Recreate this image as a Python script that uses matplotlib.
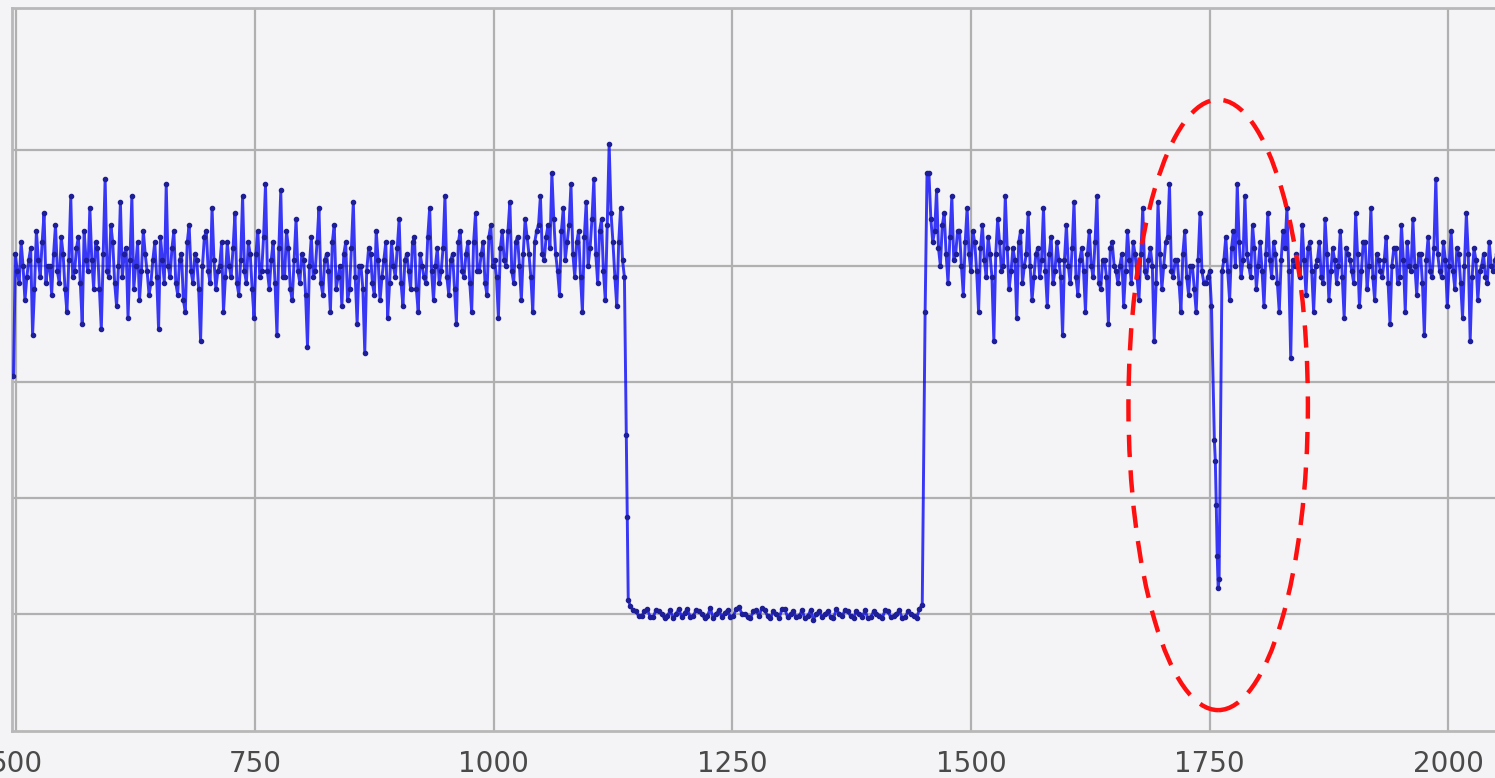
import numpy as np
import matplotlib
matplotlib.use('Agg')
import matplotlib.pyplot as plt
from matplotlib.patches import Ellipse

# 信号数据
# 每段有两组采样：主采样点（偶数位置）和其间的采样点（奇数位置）
# 第一段：噪声段 x = 497 .. 1137，采样间隔 2
seg_a_x0, seg_a_step = 497, 2
seg_a = [
    3.05, 3.95, 4.20, 3.70, 4.05, 3.40, 4.30, 3.90, 4.45, 4.00, 3.75, 4.35, 3.85, 4.10, 3.60, 4.60, 3.95, 4.25, 3.50, 4.05,
    4.50, 3.80, 4.15, 3.45, 4.75, 3.90, 4.20, 3.65, 4.55, 4.10, 3.55, 4.60, 4.00, 3.70, 4.30, 3.95, 3.85, 4.20, 3.45, 4.05,
    4.70, 3.90, 4.30, 3.75, 4.10, 3.60, 4.35, 3.85, 4.05, 3.35, 4.25, 3.95, 4.50, 3.80, 4.00, 3.60, 4.20, 3.90, 4.45, 3.75,
    4.60, 3.85, 4.10, 3.55, 4.30, 3.95, 4.70, 3.80, 4.20, 3.40, 4.65, 3.90, 4.15, 3.70, 4.40, 3.85, 4.05, 3.30, 4.25, 3.95,
    4.50, 3.75, 4.10, 3.60, 4.35, 3.90, 3.65, 4.20, 3.80, 4.55, 3.50, 4.00, 3.25, 4.15, 3.85, 4.30, 3.70, 4.05, 3.55, 4.20,
    3.90, 4.40, 3.65, 4.10, 3.80, 4.25, 3.60, 4.00, 3.85, 4.50, 3.70, 4.15, 3.95, 4.60, 3.75, 4.10, 3.50, 4.30, 3.90, 4.20,
    3.60, 4.45, 3.95, 4.20, 3.75, 4.35, 4.05, 3.55, 4.30, 4.00, 4.55, 3.85, 4.25, 3.70, 4.40, 4.10, 3.60, 4.30, 4.60, 4.05,
    4.35, 4.80, 4.10, 3.75, 4.50, 4.20, 4.70, 3.90, 4.30, 3.60, 4.55, 4.15, 4.75, 3.85, 4.40, 3.70, 5.05, 4.20, 3.65, 4.50,
    3.90,
]
seg_a_mid = [
    4.10, 3.85, 4.00, 3.90, 4.15, 3.80, 4.05, 4.20, 3.85, 4.00, 4.10, 3.95, 4.25, 3.80, 4.05, 3.90, 4.15, 3.85, 4.30, 3.95,
    4.05, 4.20, 3.80, 4.10, 3.95, 4.35, 3.85, 4.00, 3.90, 4.15, 4.05, 3.80, 4.20, 3.95, 4.10, 3.75, 4.05, 3.90, 4.25, 3.85,
    4.00, 4.15, 3.85, 4.05, 3.70, 4.20, 3.95, 4.10, 3.80, 4.00, 4.30, 3.85, 4.05, 3.95, 4.20, 3.90, 4.00, 4.15, 3.85, 4.05,
    3.95, 4.20, 3.80, 4.10, 3.90, 4.25, 3.95, 4.05, 3.85, 4.15, 3.90, 4.30, 3.80, 4.05, 3.95, 4.10, 3.75, 4.00, 3.90, 4.20,
    3.85, 4.05, 3.95, 4.20, 3.80, 4.00, 4.10, 3.70, 4.15, 3.90, 4.00, 3.80, 3.95, 4.10, 3.75, 4.05, 3.90, 4.20, 3.85, 4.00,
    4.15, 3.85, 4.05, 3.95, 4.20, 3.80, 4.10, 3.90, 4.25, 3.95, 4.00, 3.85, 4.15, 3.90, 4.05, 3.80, 4.20, 3.95, 4.10, 3.85,
    4.20, 3.95, 4.10, 3.85, 4.25, 4.00, 3.90, 4.15, 4.05, 4.30, 3.95, 4.20, 4.00, 4.10, 4.25, 3.90, 4.20, 4.35, 4.10, 4.25,
    4.15, 4.40, 3.95, 4.30, 4.05, 4.35, 4.10, 4.20, 3.90, 4.25, 4.00, 4.40, 4.10, 4.30, 3.95, 4.35, 4.45, 3.90, 4.20, 4.05,
]
# 下降沿
drop_x = [1139, 1140, 1141]
drop_y = [2.54, 1.83, 1.12]
# 第二段：低平段 x = 1143 .. 1449，采样间隔 3
seg_b_x0, seg_b_step = 1143, 3
seg_b = [
    1.07, 1.02, 0.98, 1.04, 0.97, 1.02, 0.96, 1.03, 1.00, 0.97, 1.04, 0.98, 1.02, 0.96, 1.05, 1.00, 0.97, 1.03, 0.98, 1.06,
    1.00, 0.96, 1.03, 1.05, 0.98, 1.02, 0.96, 1.04, 1.00, 0.97, 1.03, 0.98, 0.95, 1.02, 1.00, 0.97, 1.04, 0.98, 1.02, 0.96,
    1.00, 1.03, 0.97, 1.00, 0.96, 1.02, 0.98, 1.03, 0.97, 1.00, 0.96, 1.08,
]
seg_b_mid = [
    1.03, 0.98, 1.02, 0.97, 1.03, 1.00, 0.98, 0.96, 1.04, 1.01, 0.97, 1.03, 1.00, 0.98, 0.96, 1.03, 1.01, 0.97, 1.04, 1.00,
    0.97, 1.02, 0.98, 1.03, 0.96, 1.00, 1.04, 0.97, 1.02, 0.98, 0.96, 1.03, 1.00, 0.97, 1.02, 0.96, 1.00, 1.03, 0.98, 1.02,
    0.97, 0.96, 1.02, 0.98, 1.03, 0.97, 1.00, 0.96, 1.02, 0.98, 1.04,
]
# 上升沿
rise_x = [1452, 1454]
rise_y = [3.60, 4.80]
# 第三段：噪声段 x = 1456 .. 1752，采样间隔 2
seg_c_x0, seg_c_step = 1456, 2
seg_c = [
    4.80, 4.20, 4.65, 4.00, 4.45, 3.85, 4.60, 4.10, 4.30, 3.75, 4.50, 3.95, 4.20, 3.60, 4.35, 3.90, 4.10, 3.35, 4.40, 3.95,
    4.60, 3.80, 4.15, 3.55, 4.30, 4.00, 4.45, 3.70, 4.10, 3.90, 4.50, 3.65, 4.25, 3.95, 4.05, 3.40, 4.35, 3.85, 4.55, 3.75,
    4.15, 3.60, 4.30, 3.90, 4.60, 3.80, 4.05, 3.50, 4.20, 3.95, 4.00, 3.65, 4.30, 3.85, 4.10, 3.70, 4.50, 3.90, 4.15, 3.35,
    4.55, 3.80, 4.20, 4.70, 3.90, 4.05, 3.60, 4.30, 3.75, 4.00, 3.60, 4.45, 3.85, 3.90, 3.65,
]
seg_c_mid = [
    4.40, 4.30, 4.15, 4.35, 4.10, 4.25, 4.05, 4.30, 4.00, 4.20, 4.10, 4.30, 3.95, 4.15, 4.05, 4.25, 3.90, 4.10, 4.20, 4.00,
    4.15, 3.95, 4.05, 4.20, 3.85, 4.10, 4.00, 3.90, 4.15, 4.05, 3.95, 4.10, 3.85, 4.20, 3.90, 4.05, 4.00, 4.15, 3.90, 4.05,
    3.95, 4.10, 4.00, 4.20, 3.85, 4.05, 3.90, 4.15, 4.00, 3.85, 4.10, 3.95, 4.05, 4.20, 3.90, 4.10, 3.95, 4.05, 4.00, 3.85,
    4.10, 4.00, 4.25, 3.95, 4.05, 3.85, 4.10, 3.90, 4.00, 3.80, 4.05, 3.95, 3.85, 3.95,
]
# 异常下凹（红圈处）
dip_x = [1755, 1756, 1757, 1758, 1759, 1760]
dip_y = [2.50, 2.32, 1.94, 1.50, 1.22, 1.30]
# 第四段：噪声段 x = 1763 .. 2051，采样间隔 2
seg_d_x0, seg_d_step = 1763, 2
seg_d = [
    3.95, 4.25, 3.70, 4.30, 4.70, 3.90, 4.60, 4.00, 4.35, 3.80, 4.20, 3.65, 4.45, 3.90, 4.10, 3.60, 4.30, 4.50, 3.20, 4.00,
    4.00, 4.35, 3.75, 4.20, 3.60, 4.05, 3.90, 4.40, 3.70, 4.15, 3.85, 4.30, 3.55, 4.10, 3.95, 4.45, 3.65, 4.20, 3.80, 4.50,
    3.70, 4.05, 3.90, 4.25, 3.50, 4.15, 3.85, 4.35, 3.60, 4.00, 4.40, 3.75, 4.10, 3.40, 4.25, 3.90, 4.75, 3.95, 4.20, 3.65,
    4.30, 3.80, 4.10, 3.55, 4.45, 3.35, 4.15, 3.70, 4.00, 3.90, 4.20, 3.95, 4.10,
]
seg_d_mid = [
    4.05, 3.95, 4.15, 4.00, 4.20, 4.05, 4.10, 3.90, 4.15, 4.00, 3.95, 4.10, 4.05, 4.20, 3.85, 4.05, 4.15, 3.95, 4.05, 4.10,
    3.90, 4.05, 4.15, 3.95, 4.00, 4.20, 3.85, 4.10, 3.95, 4.05, 4.00, 3.90, 4.15, 4.05, 3.85, 4.10, 3.95, 4.20, 4.00, 3.90,
    4.10, 3.95, 4.05, 3.85, 4.00, 4.15, 3.90, 4.05, 4.20, 3.95, 4.00, 4.10, 3.85, 4.05, 3.95, 4.15, 4.10, 3.90, 4.05, 4.00,
    3.95, 4.15, 3.85, 4.00, 4.10, 3.90, 4.05, 3.95, 4.10, 3.85, 4.00, 4.05,
]


def interleave(main, mid):
    # 主采样与中间采样交错
    out = np.empty(len(main) + len(mid))
    out[0::2] = main
    out[1::2] = mid
    return out


ya = interleave(seg_a, seg_a_mid)
yb = interleave(seg_b, seg_b_mid)
yc = interleave(seg_c, seg_c_mid)
yd = interleave(seg_d, seg_d_mid)

x = np.concatenate([
    seg_a_x0 + seg_a_step * np.arange(len(ya)),
    drop_x,
    seg_b_x0 + seg_b_step * np.arange(len(yb)),
    rise_x,
    seg_c_x0 + seg_c_step * np.arange(len(yc)),
    dip_x,
    seg_d_x0 + seg_d_step * np.arange(len(yd)),
])
y = np.concatenate([ya, drop_y, yb, rise_y, yc, dip_y, yd])

x_ticks = [500, 750, 1000, 1250, 1500, 1750, 2000]
y_grid = [1, 2, 3, 4, 5]

bg = '#f4f4f6'
fig = plt.figure(figsize=(14.95, 7.78), dpi=100, facecolor=bg)
ax = fig.add_axes([0.008, 0.0604, 0.992, 0.9293])
ax.set_facecolor(bg)

ax.plot(x, y, color='#0808f5', lw=2.1, alpha=0.8, zorder=3)
ax.plot(x, y, ls='none', marker='o', ms=3.0, color='#1e1e96', zorder=4)

# 红色虚线椭圆
ell = Ellipse((1759, 2.80), 188, 5.26, fill=False, edgecolor='#ff1010',
              lw=3.2, linestyle=(0, (5, 3)), zorder=5)
ax.add_patch(ell)

ax.set_xlim(495.4, 2049)
ax.set_ylim(-0.01, 6.22)
ax.set_xticks(x_ticks)
ax.set_yticks(y_grid)
ax.set_yticklabels([])
ax.tick_params(axis='both', length=0)
ax.tick_params(axis='x', pad=14, labelsize=20, labelcolor='#4a4a4a')
ax.grid(True, color='#b0b0b0', lw=1.6, zorder=1)
ax.set_axisbelow(True)

for side in ['top', 'left', 'bottom']:
    ax.spines[side].set_color('#b8b8b8')
    ax.spines[side].set_linewidth(2)
ax.spines['right'].set_visible(False)

plt.savefig('out.png', dpi=100, facecolor=bg)
